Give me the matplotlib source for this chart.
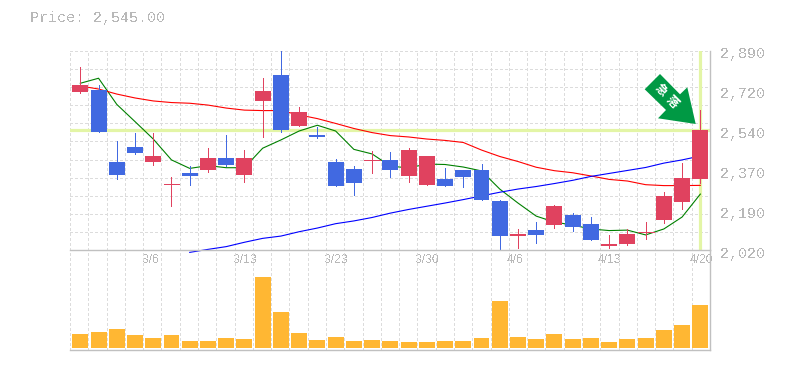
import matplotlib
matplotlib.use("Agg")
import matplotlib.pyplot as plt
from matplotlib.patches import Polygon
from matplotlib.transforms import IdentityTransform, ScaledTranslation

W, H = 785, 370
current_price = 2545.0
price_title = "Price: 2,545.00"
y_ticks = [2890, 2716, 2542, 2368, 2194, 2020]
y_tick_labels = ["2,890", "2,720", "2,540", "2,370", "2,190", "2,020"]
tick_positions = [4, 9, 14, 19, 24, 29, 34]
tick_labels = ["3/6", "3/13", "3/23", "3/30", "4/6", "4/13", "4/20"]

opens = [2710, 2719, 2405, 2470, 2405, 2309, 2357, 2370, 2422, 2348, 2671, 2784, 2562, 2523, 2405, 2374, 2410, 2414,
         2344, 2305, 2331, 2370, 2370, 2235, 2082, 2108, 2130, 2174, 2135, 2039, 2047, 2098, 2152, 2230, 2331]
closes = [2740, 2536, 2348, 2444, 2431, 2313, 2344, 2422, 2392, 2422, 2714, 2544, 2623, 2514, 2300, 2313, 2414, 2370,
          2457, 2431, 2300, 2339, 2239, 2082, 2091, 2087, 2213, 2121, 2065, 2047, 2091, 2102, 2257, 2336, 2545]
highs = [2819, 2740, 2496, 2531, 2531, 2339, 2387, 2466, 2523, 2457, 2771, 2900, 2645, 2557, 2418, 2387, 2453, 2448,
         2466, 2431, 2379, 2370, 2396, 2239, 2113, 2143, 2217, 2183, 2165, 2087, 2113, 2143, 2274, 2400, 2631]
lows = [2706, 2536, 2331, 2440, 2392, 2213, 2305, 2361, 2387, 2318, 2514, 2536, 2562, 2509, 2300, 2261, 2357, 2339,
        2318, 2305, 2300, 2296, 2239, 2021, 2030, 2052, 2117, 2104, 2065, 2030, 2043, 2069, 2139, 2200, 2313]
ma_short = [2748, 2770, 2656, 2581, 2505, 2414, 2377, 2389, 2380, 2380, 2465, 2501, 2540, 2565, 2540, 2460, 2440, 2387,
            2379, 2396, 2394, 2383, 2366, 2287, 2226, 2169, 2143, 2130, 2113, 2106, 2108, 2087, 2113, 2165, 2265]
ma_mid = [2736, 2723, 2701, 2684, 2671, 2664, 2661, 2653, 2640, 2631, 2629, 2629, 2610, 2594, 2573, 2551, 2533, 2520,
          2514, 2505, 2499, 2490, 2457, 2429, 2407, 2382, 2367, 2358, 2344, 2329, 2322, 2306, 2302, 2302, 2303]
ma_long_start = 6
ma_long = [2011, 2024, 2036, 2055, 2072, 2082, 2101, 2117, 2136, 2148, 2163, 2182, 2198, 2212, 2226, 2241, 2257, 2273,
           2287, 2298, 2311, 2325, 2342, 2355, 2368, 2381, 2400, 2414, 2431]
volumes = [14, 16, 19, 13, 10, 13, 7, 7, 10, 9, 71, 36, 15, 8, 11, 7, 8, 7,
           6, 6, 7, 7, 10, 47, 11, 9, 14, 9, 10, 6, 9, 10, 18, 23, 43]

UP = "#E0425F"
DOWN = "#4169E1"
VOL = "#FFB733"
HILITE = "#E3F5A6"
GRID = "#DCDCDC"
AXIS = "#C0C0C0"
TEXT = "#B8B8B8"
ARROW = "#009944"

plt.rcParams["text.antialiased"] = False
fig = plt.figure(figsize=(W / 100, H / 100), dpi=100, facecolor="white")

L, R, T1, B1, B2 = 70.0, 710.0, 50.7, 250.3, 350.0
ax = fig.add_axes([L / W, 1 - B1 / H, (R - L) / W, (B1 - T1) / H])
axv = fig.add_axes([L / W, 1 - B2 / H, (R - L) / W, (B2 - B1) / H])
for a in (ax, axv):
    a.patch.set_alpha(0)
    for s in a.spines.values():
        s.set_visible(False)
    a.spines["right"].set_visible(True)
    a.spines["right"].set_color(AXIS)
    a.spines["right"].set_linewidth(1.0)
    a.spines["bottom"].set_visible(True)
    a.spines["bottom"].set_color(AXIS)
    a.spines["bottom"].set_linewidth(1.0)
    a.spines["bottom"].set_zorder(5)

n = len(opens)
xs = list(range(n))
X0, X1 = -0.565, 34.53
ax.set_xlim(X0, X1)
axv.set_xlim(X0, X1)
ax.set_ylim(2020, 2890)
axv.set_ylim(-2, 97.7)
axv.set_xticks([])
axv.set_yticks([])

gx = [X0 + (X1 - X0) * i / 35 for i in range(36)]
for a in (ax, axv):
    for g in gx:
        a.axvline(g, color=GRID, lw=0.72, dashes=(2.8, 2.8), antialiased=False, zorder=0)
for i in range(12):
    ax.axhline(2020 + 870 * i / 11, color=GRID, lw=0.72, dashes=(2.8, 2.8), antialiased=False, zorder=0)

ax.axhline(current_price, color=HILITE, lw=2.3, zorder=1)
ax.axvline(n - 1, color=HILITE, lw=2.3, zorder=1)

line_lw = 0.8
ax.plot(xs, ma_short, color="#008000", lw=line_lw, zorder=2, clip_on=False)
ax.plot(xs, ma_mid, color="#FF0000", lw=line_lw, zorder=2, clip_on=False)
ax.plot(xs[ma_long_start:], ma_long, color="#0000FF", lw=line_lw, zorder=2, clip_on=False)

for i in xs:
    c = UP if closes[i] >= opens[i] else DOWN
    ax.vlines(i, lows[i], highs[i], color=c, lw=0.72, zorder=3, antialiased=False)
    body = abs(closes[i] - opens[i])
    if body <= 9:
        ax.hlines((opens[i] + closes[i]) / 2, i - 0.4375, i + 0.4375, color=c, lw=0.72 if body < 5 else 1.44,
                  zorder=4, antialiased=False)
    else:
        ax.bar(i, body, bottom=min(opens[i], closes[i]), width=0.875, color=c, zorder=4,
               antialiased=False, linewidth=0)
axv.bar(xs, volumes, width=0.875, color=VOL, zorder=2, antialiased=False, linewidth=0)

ax.set_xticks(tick_positions)
ax.set_xticklabels(tick_labels, family="Liberation Sans", fontsize=8.64, color=TEXT, ha="left")
ax.tick_params(axis="x", length=0, pad=3)
for lab in ax.get_xticklabels():
    lab.set_transform(lab.get_transform() + ScaledTranslation(-11 / 100, 0, fig.dpi_scale_trans))

ax.yaxis.tick_right()
ax.set_yticks(y_ticks)
ax.set_yticklabels(y_tick_labels, family="Liberation Mono", fontsize=10.8, color=TEXT)
ax.tick_params(axis="y", length=0, pad=7.2)
for lab in ax.get_yticklabels():
    lab.set_transform(lab.get_transform() + ScaledTranslation(0, -2 / 100, fig.dpi_scale_trans))

fig.text(29.5 / W, 1 - 18 / H, price_title, family="Liberation Mono", fontsize=10.8, color=TEXT, va="center", ha="left")


def px(pts):
    return [(x, H - y) for x, y in pts]


arrow_outline = [(660, 74), (644.7, 89.3), (666, 110), (658, 118.3), (695.7, 124), (687.3, 87.3), (680, 94.3)]
fig.add_artist(Polygon(px(arrow_outline), closed=True, transform=IdentityTransform(), facecolor=ARROW, edgecolor="none", zorder=6))
fig.text(661 / W, 1 - 90 / H, "\u6025", family="Noto Sans CJK JP", fontsize=8.6, weight="bold", color="white",
         rotation=-45, ha="center", va="center", zorder=7, rotation_mode="anchor", antialiased=True)
fig.text(672 / W, 1 - 102 / H, "\u843d", family="Noto Sans CJK JP", fontsize=8.6, weight="bold", color="white",
         rotation=-45, ha="center", va="center", zorder=7, rotation_mode="anchor", antialiased=True)

fig.savefig("out.png", dpi=100, facecolor="white")
